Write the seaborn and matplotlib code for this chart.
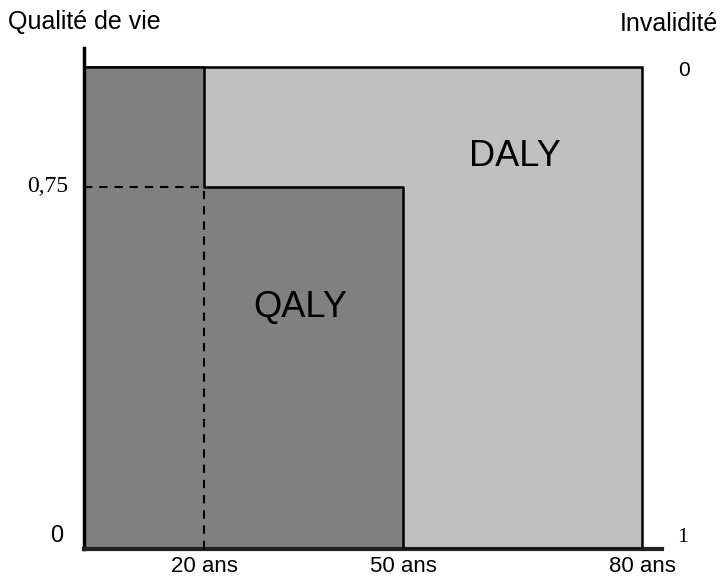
import numpy as np
import matplotlib.pyplot as plt
import seaborn as sns
from matplotlib.patches import Rectangle

# Schematic QALY / DALY diagram
ages = [0, 20, 50, 80]                # age breakpoints (years)
quality = [1.0, 0.75, 0.0, 0.0]       # quality of life from each breakpoint on
age_labels = ['20 ans', '50 ans', '80 ans']
life_end = 80

# the original diagram is not drawn to scale: piecewise axis
sketch_ages = [0, 20, 50, 80, 100]
sketch_width = [0, 120, 319, 558, 717]


def fwd(x):
    return np.interp(x, sketch_ages, sketch_width)


def inv(x):
    return np.interp(x, sketch_width, sketch_ages)


sns.set_style('white')
plt.rcParams['font.family'] = ['Liberation Sans', 'DejaVu Sans']
plt.rcParams['text.color'] = 'black'
plt.rcParams['xtick.color'] = 'black'

fig = plt.figure(figsize=(7.21, 5.83), dpi=100)
ax = fig.add_axes([84 / 721, 1 - 549 / 583, (662 - 84) / 721, (549 - 48) / 583])
ax.set_xscale('function', functions=(fwd, inv))
ax.set_xlim(0, 82.5)
ax.set_ylim(0, 1.0394)

# DALY: the whole healthy life span
ax.add_patch(Rectangle((0, 0), life_end, 1, facecolor='#c0c0c0',
                       edgecolor='black', lw=1.8, zorder=1))
# QALY: quality-weighted years lived
ax.fill_between(ages, quality, step='post', color='#808080', lw=0, zorder=2)
sns.lineplot(x=ages, y=quality, drawstyle='steps-post', color='black',
             lw=1.8, ax=ax, zorder=3)
ax.hlines(quality[1], ages[0], ages[1], colors='black', lw=1.5,
          linestyles=(0, (4, 3.3)), zorder=3)
ax.vlines(ages[1], 0, quality[1], colors='black', lw=1.5,
          linestyles=(0, (4, 3.3)), zorder=3)

ax.text(34.5, 0.5, 'QALY', fontsize=26, ha='center', va='center')
ax.text(64.1, 0.815, 'DALY', fontsize=26, ha='center', va='center')

# axes
sns.despine(ax=ax, top=True, right=True)
ax.spines['left'].set_linewidth(2.5)
ax.spines['bottom'].set_linewidth(3)
ax.spines['left'].set_color('black')
ax.spines['bottom'].set_color('#222222')
ax.set_xticks(ages[1:])
ax.set_xticklabels(age_labels, fontsize=16)
ax.tick_params(axis='x', length=0, pad=5)
ax.set_yticks([])
ax.set_xlabel('')
ax.set_ylabel('')

# quality scale (left) and disability scale (right)
fig.text(8 / 721, 1 - 22 / 583, 'Qualité de vie', fontsize=18,
         ha='left', va='center')
fig.text(718 / 721, 1 - 24 / 583, 'Invalidité', fontsize=18,
         ha='right', va='center')


def side_label(txt, x, y, dx, dy, size, **kw):
    ax.annotate(txt, xy=(x, y), xytext=(dx, dy), textcoords='offset pixels',
                fontsize=size, va='center', annotation_clip=False, **kw)


side_label('0,75', 0, quality[1], -16, 1, 17, ha='right',
           family='Liberation Serif')
side_label('0', 0, 0, -27, 13, 17, ha='center')
side_label('0', life_end, 1, 42, -4, 15, ha='center')
side_label('1', life_end, 0, 41, 11, 16, ha='center',
           family='Liberation Serif')

fig.savefig('out.png', dpi=100)
